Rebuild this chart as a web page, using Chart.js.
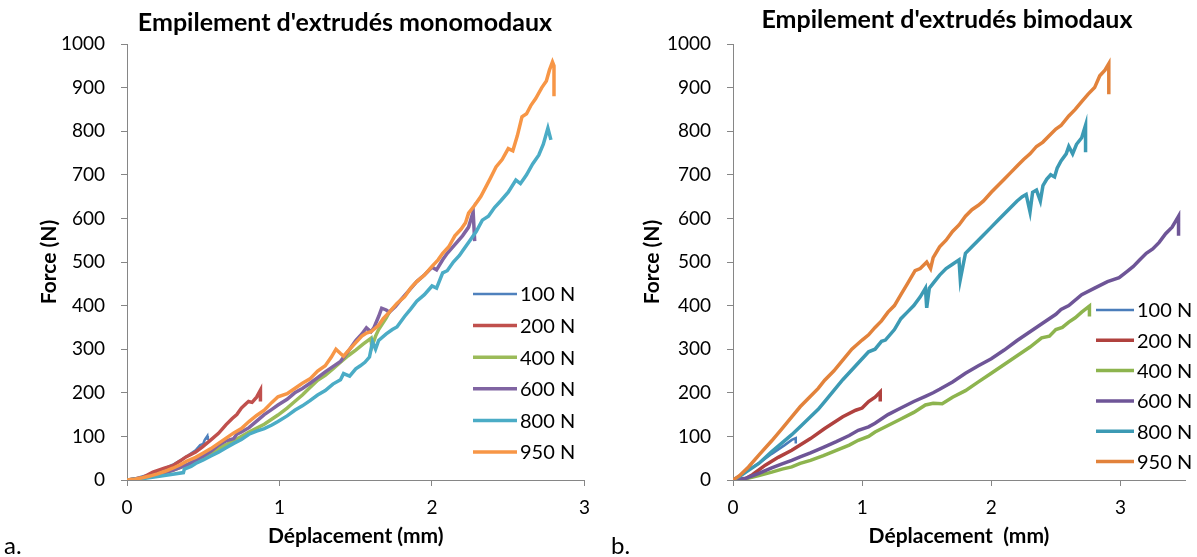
<!DOCTYPE html>
<html>
<head>
<meta charset="utf-8">
<script src="https://cdn.jsdelivr.net/npm/chart.js@4.4.0/dist/chart.umd.min.js"></script>
<style>
  body { margin: 0; background: #fff; width: 1197px; height: 557px; overflow: hidden; position: relative; font-family: Lato, sans-serif; }
  canvas { position: absolute; top: 0; }
  #c1 { left: 0; }
  #c2 { left: 600px; }
  .tag { position: absolute; top: 530px; font-size: 24px; color: #000; }
</style>
</head>
<body>
<canvas id="c1" width="600" height="557"></canvas>
<canvas id="c2" width="597" height="557"></canvas>
<div class="tag" style="left:4px">a.</div>
<div class="tag" style="left:611px">b.</div>
<script>
// series labels and ticks
const labels = ["100 N", "200 N", "400 N", "600 N", "800 N", "950 N"];
const yTicks = [0, 100, 200, 300, 400, 500, 600, 700, 800, 900, 1000];
const xTicks = [0, 1, 2, 3];

// monomodaux (déplacement mm / force N)
const mono100x = [0, 0.05, 0.1, 0.15, 0.2, 0.25, 0.3, 0.35, 0.4, 0.45, 0.48, 0.5, 0.51, 0.527, 0.53];
const mono100y = [0, 3, 8, 13, 20, 27, 35, 45, 56, 68, 80, 83, 92, 101, 92];
const mono200x = [0, 0.1, 0.17, 0.25, 0.3, 0.35, 0.387, 0.45, 0.495, 0.55, 0.6, 0.65, 0.69, 0.72, 0.75, 0.78, 0.797, 0.82, 0.85, 0.875, 0.875];
const mono200y = [0, 5, 18, 28, 33, 44, 53, 64, 76, 92, 107, 127, 141, 150, 165, 175, 180, 178, 190, 206, 180];
const mono400x = [0, 0.1, 0.2, 0.3, 0.4, 0.5, 0.6, 0.7, 0.8, 0.9, 0.99, 1.05, 1.1, 1.15, 1.2, 1.25, 1.3, 1.35, 1.4, 1.45, 1.5, 1.55, 1.6, 1.605, 1.63, 1.65, 1.7, 1.72];
const mono400y = [0, 4, 12, 22, 36, 52, 72, 90, 110, 128, 149, 165, 180, 195, 212, 229, 240, 255, 270, 285, 298, 312, 325, 305, 330, 345, 372, 385];
const mono600x = [0, 0.1, 0.2, 0.3, 0.4, 0.5, 0.55, 0.6, 0.65, 0.7, 0.72, 0.75, 0.8, 0.85, 0.9, 0.95, 0.99, 1.05, 1.1, 1.15, 1.2, 1.25, 1.3, 1.35, 1.4, 1.45, 1.5, 1.54, 1.57, 1.6, 1.62, 1.65, 1.67, 1.7, 1.72, 1.76, 1.8, 1.85, 1.9, 1.95, 2.0, 2.03, 2.07, 2.1, 2.15, 2.2, 2.24, 2.27, 2.28];
const mono600y = [0, 4, 12, 22, 36, 55, 66, 80, 90, 95, 105, 110, 120, 135, 150, 162, 172, 185, 200, 210, 222, 235, 248, 260, 272, 295, 320, 335, 349, 340, 350, 375, 394, 390, 385, 398, 415, 435, 455, 470, 488, 482, 505, 520, 540, 560, 580, 615, 548];
const mono800x = [0, 0.1, 0.2, 0.3, 0.37, 0.376, 0.42, 0.45, 0.5, 0.55, 0.6, 0.65, 0.7, 0.75, 0.8, 0.85, 0.9, 0.95, 0.99, 1.05, 1.1, 1.15, 1.2, 1.25, 1.3, 1.35, 1.4, 1.42, 1.46, 1.5, 1.53, 1.56, 1.59, 1.61, 1.63, 1.65, 1.7, 1.74, 1.77, 1.82, 1.86, 1.9, 1.95, 2.0, 2.03, 2.07, 2.1, 2.14, 2.18, 2.2, 2.25, 2.29, 2.33, 2.37, 2.41, 2.45, 2.5, 2.55, 2.58, 2.6, 2.62, 2.66, 2.7, 2.73, 2.76, 2.78];
const mono800y = [0, 3, 8, 13, 17, 25, 31, 38, 46, 55, 64, 74, 84, 93, 105, 112, 118, 126, 134, 147, 160, 170, 182, 195, 205, 220, 230, 244, 238, 255, 262, 270, 282, 317, 300, 320, 335, 345, 351, 375, 392, 410, 425, 445, 440, 475, 480, 500, 515, 525, 550, 570, 596, 605, 625, 640, 660, 688, 680, 690, 700, 725, 745, 770, 807, 780];
const mono950x = [0, 0.05, 0.1, 0.15, 0.2, 0.25, 0.3, 0.35, 0.39, 0.45, 0.5, 0.55, 0.6, 0.65, 0.7, 0.75, 0.8, 0.85, 0.9, 0.95, 0.99, 1.05, 1.1, 1.15, 1.2, 1.25, 1.3, 1.34, 1.37, 1.4, 1.42, 1.46, 1.5, 1.54, 1.57, 1.6, 1.65, 1.68, 1.72, 1.77, 1.82, 1.86, 1.9, 1.95, 2.0, 2.04, 2.07, 2.11, 2.15, 2.19, 2.22, 2.24, 2.28, 2.32, 2.35, 2.38, 2.42, 2.46, 2.5, 2.53, 2.56, 2.59, 2.62, 2.65, 2.68, 2.72, 2.75, 2.77, 2.79, 2.8, 2.8];
const mono950y = [0, 2, 5, 9, 14, 20, 27, 35, 43, 52, 62, 72, 84, 96, 108, 118, 134, 148, 160, 178, 191, 198, 210, 222, 232, 250, 262, 282, 300, 290, 284, 300, 315, 330, 337, 340, 355, 370, 385, 405, 420, 440, 455, 470, 490, 505, 520, 535, 560, 575, 590, 612, 630, 650, 670, 690, 718, 735, 760, 755, 790, 833, 840, 860, 875, 900, 915, 940, 959, 950, 880];

// bimodaux
const bi100x = [0, 0.05, 0.1, 0.2, 0.3, 0.4, 0.455, 0.486, 0.486];
const bi100y = [0, 8, 20, 38, 60, 80, 92, 96, 84];
const bi200x = [0, 0.08, 0.15, 0.25, 0.35, 0.455, 0.6, 0.71, 0.85, 0.95, 1.0, 1.05, 1.1, 1.14, 1.14];
const bi200y = [0, 0, 12, 34, 52, 68, 95, 118, 145, 160, 165, 180, 190, 202, 180];
const bi400x = [0, 0.1, 0.2, 0.3, 0.38, 0.455, 0.52, 0.6, 0.7, 0.8, 0.9, 0.97, 1.05, 1.1, 1.2, 1.3, 1.4, 1.49, 1.55, 1.62, 1.7, 1.8, 1.9, 2.0, 2.1, 2.2, 2.3, 2.39, 2.45, 2.5, 2.55, 2.6, 2.65, 2.7, 2.76, 2.76];
const bi400y = [0, 3, 10, 18, 25, 30, 38, 45, 56, 68, 80, 91, 100, 110, 125, 140, 155, 172, 176, 175, 190, 205, 225, 245, 265, 285, 305, 326, 330, 345, 350, 362, 372, 385, 399, 375];
const bi600x = [0, 0.1, 0.2, 0.3, 0.38, 0.455, 0.52, 0.6, 0.7, 0.8, 0.9, 0.97, 1.05, 1.1, 1.2, 1.3, 1.4, 1.49, 1.55, 1.6, 1.7, 1.8, 1.9, 2.0, 2.1, 2.2, 2.3, 2.4, 2.5, 2.54, 2.6, 2.7, 2.8, 2.9, 2.99, 3.05, 3.1, 3.15, 3.2, 3.25, 3.3, 3.35, 3.4, 3.43, 3.45, 3.45];
const bi600y = [0, 4, 15, 28, 37, 45, 53, 62, 75, 88, 102, 114, 122, 130, 150, 165, 180, 192, 200, 208, 225, 245, 262, 278, 298, 320, 340, 360, 380, 391, 400, 425, 440, 455, 464, 478, 490, 505, 520, 530, 545, 565, 580, 595, 605, 560];
const bi800x = [0, 0.05, 0.1, 0.2, 0.3, 0.38, 0.455, 0.52, 0.6, 0.66, 0.71, 0.78, 0.85, 0.95, 1.05, 1.1, 1.15, 1.18, 1.25, 1.3, 1.35, 1.4, 1.45, 1.49, 1.5, 1.52, 1.56, 1.6, 1.65, 1.7, 1.75, 1.76, 1.8, 1.85, 1.9, 1.94, 2.0, 2.05, 2.1, 2.15, 2.2, 2.24, 2.27, 2.3, 2.32, 2.35, 2.38, 2.4, 2.43, 2.46, 2.49, 2.51, 2.54, 2.58, 2.6, 2.63, 2.66, 2.7, 2.73, 2.73];
const bi800y = [0, 8, 18, 38, 65, 85, 104, 122, 145, 162, 180, 205, 230, 262, 294, 300, 318, 321, 345, 370, 385, 400, 420, 440, 395, 440, 455, 470, 485, 495, 505, 460, 520, 535, 550, 562, 580, 595, 610, 625, 640, 650, 655, 615, 660, 665, 640, 675, 690, 700, 695, 715, 732, 748, 765, 748, 770, 785, 814, 752];
const bi950x = [0, 0.05, 0.12, 0.2, 0.3, 0.38, 0.455, 0.52, 0.6, 0.66, 0.71, 0.78, 0.85, 0.92, 1.0, 1.05, 1.1, 1.15, 1.2, 1.25, 1.3, 1.35, 1.41, 1.45, 1.5, 1.53, 1.55, 1.6, 1.65, 1.7, 1.75, 1.8, 1.85, 1.9, 1.94, 2.0, 2.05, 2.1, 2.15, 2.2, 2.25, 2.3, 2.35, 2.4, 2.45, 2.5, 2.54, 2.6, 2.65, 2.7, 2.75, 2.8, 2.84, 2.88, 2.91, 2.91];
const bi950y = [0, 10, 30, 57, 90, 118, 145, 168, 192, 210, 229, 250, 275, 300, 321, 333, 350, 365, 385, 400, 425, 450, 480, 485, 500, 485, 510, 535, 550, 570, 585, 605, 620, 630, 640, 660, 675, 690, 705, 720, 735, 748, 765, 775, 790, 805, 813, 835, 850, 868, 885, 900, 927, 940, 955, 885];

const monoColors = ["#4F81BD", "#C0504D", "#9BBB59", "#8064A2", "#4BACC6", "#F79646"];
const biColors = ["#4A7DBA", "#B0413E", "#8DB44E", "#6E5597", "#3C9AB4", "#E2823B"];

function pts(xs, ys) {
  return xs.map((x, i) => ({ x: x, y: ys[i] }));
}

function makeSets(list, colors) {
  return list.map((s, i) => ({
    label: labels[i],
    data: pts(s[0], s[1]),
    borderColor: colors[i],
    backgroundColor: colors[i],
    borderWidth: i == 0 ? 2.5 : 3.5,
    pointRadius: 0,
    tension: 0,
    order: list.length - i
  }));
}

const font = "Lato, sans-serif";

// put the title over a given centre (Excel centres it on the whole chart)
const titlePos = {
  id: "titlePos",
  afterLayout(chart, args, o) {
    const t = chart.titleBlock;
    if (!t) return;
    t.left = o.center - 300;
    t.right = o.center + 300;
  }
};

// legend drawn inside the plot, like the original
const lineLegend = {
  id: "lineLegend",
  afterDraw(chart, args, o) {
    const ctx = chart.ctx;
    ctx.save();
    ctx.font = "20px " + font;
    ctx.textBaseline = "middle";
    ctx.textAlign = "left";
    chart.data.datasets.forEach((ds, i) => {
      const y = o.y + i * o.gap;
      ctx.strokeStyle = ds.borderColor;
      ctx.lineWidth = i == 0 ? 2.5 : 3.5;
      ctx.beginPath();
      ctx.moveTo(o.x, y);
      ctx.lineTo(o.x + o.len, y);
      ctx.stroke();
      ctx.fillStyle = "#000";
      ctx.fillText(ds.label, o.x + o.len + 3, y + 1);
    });
    ctx.restore();
  }
};

function makeChart(id, title, sets, xMax, xTitle, opt) {
  return new Chart(document.getElementById(id), {
    type: "line",
    data: { datasets: sets },
    plugins: [titlePos, lineLegend],
    options: {
      responsive: false,
      animation: false,
      layout: { padding: { left: 0, right: opt.padRight, top: 0, bottom: 8 } },
      plugins: {
        legend: { display: false },
        tooltip: { enabled: false },
        title: {
          display: true,
          text: title,
          color: "#000",
          font: { family: font, size: 25, weight: "bold" },
          padding: { top: opt.titleTop, bottom: 44 - opt.titleTop - 30 }
        },
        titlePos: { center: opt.titleCenter },
        lineLegend: opt.legend
      },
      scales: {
        x: {
          type: "linear",
          min: 0,
          max: xMax,
          afterFit: (s) => { s.height = 69; },
          afterBuildTicks: (s) => { s.ticks = xTicks.map(v => ({ value: v })); },
          ticks: { color: "#000", font: { family: font, size: 19 }, padding: 10, callback: (v) => String(v) },
          grid: { drawOnChartArea: false, color: "#868686", tickLength: 6 },
          border: { color: "#868686" },
          title: {
            display: true, text: xTitle, color: "#000",
            font: { family: font, size: 21, weight: "bold" },
            padding: { top: 0, bottom: 0 }
          }
        },
        y: {
          min: 0,
          max: 1000,
          afterFit: (s) => { s.width = opt.yWidth; },
          afterBuildTicks: (s) => { s.ticks = yTicks.map(v => ({ value: v })); },
          ticks: { color: "#000", font: { family: font, size: 19 }, padding: 16, callback: (v) => String(v) },
          grid: { drawOnChartArea: false, color: "#868686", tickLength: 6 },
          border: { color: "#868686" },
          title: {
            display: true, text: "Force (N)", color: "#000",
            font: { family: font, size: 21, weight: "bold" },
            padding: { top: opt.yTitlePad, bottom: 0 }
          }
        }
      }
    }
  });
}

const monoSets = makeSets([
  [mono100x, mono100y], [mono200x, mono200y], [mono400x, mono400y],
  [mono600x, mono600y], [mono800x, mono800y], [mono950x, mono950y]
], monoColors);

const biSets = makeSets([
  [bi100x, bi100y], [bi200x, bi200y], [bi400x, bi400y],
  [bi600x, bi600y], [bi800x, bi800y], [bi950x, bi950y]
], biColors);

makeChart("c1", "Empilement d'extrudés monomodaux", monoSets, 3, "Déplacement (mm)", {
  padRight: 13, yWidth: 127, yTitlePad: 37, titleTop: 8, titleCenter: 345,
  legend: { x: 473, y: 294, gap: 31.6, len: 44 }
});

makeChart("c2", "Empilement d'extrudés bimodaux", biSets, 3.5, "Déplacement  (mm)", {
  padRight: 12, yWidth: 133, yTitlePad: 40, titleTop: 5, titleCenter: 347,
  legend: { x: 496, y: 310, gap: 30.3, len: 38 }
});
</script>
</body>
</html>
